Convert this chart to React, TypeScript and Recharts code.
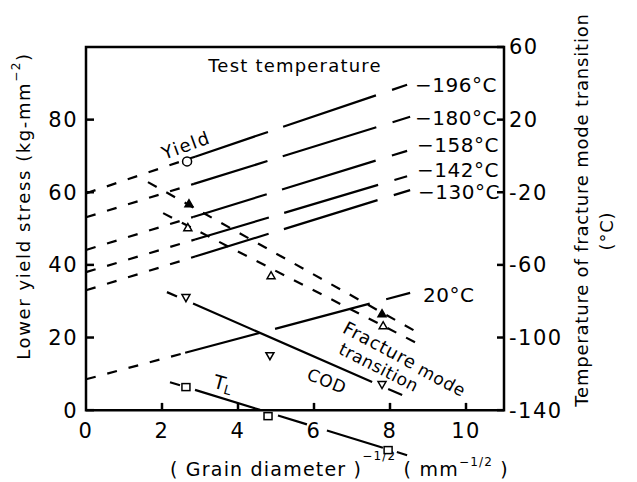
import React from 'react';
import {
  ComposedChart,
  Line,
  Scatter,
  XAxis,
  YAxis,
  ReferenceArea,
  ReferenceLine,
  ReferenceDot,
} from 'recharts';

const FONT = '"DejaVu Sans", "Liberation Sans", sans-serif';
const INK = '#000';

// lower yield stress (kg/mm²) vs d^-1/2, one line per test temperature
const tempLabels = ['−196°C', '−180°C', '−158°C', '−142°C', '−130°C', '20°C'];
const stressAtZero = [59.7, 53.1, 44.1, 38.0, 33.0, 8.5];
const measuredFromX = [2.87, 2.84, 2.82, 2.87, 2.87, 2.61];
const stressAtMeasured = [69.8, 62.3, 53.2, 47.0, 42.3, 15.8];
const lineEndX = [8.45, 8.53, 8.45, 8.45, 8.53, 8.53];
const stressAtEnd = [89.6, 80.8, 71.4, 64.4, 60.6, 32.3];
const tempLabelX = [8.66, 8.66, 8.71, 8.71, 8.74, 8.87];
const tempLabelY = [89.5, 80.4, 72.9, 66.1, 60.1, 31.7];

// yield point on the -196°C line
const yieldX = [2.66];
const yieldStress = [68.5];

// fracture mode transition temperature (°C)
const fracUpperX = [1.63, 8.71];
const fracUpperT = [-14.4, -97.0];
const fracUpperPtX = [2.71, 7.79];
const fracUpperPtT = [-26.0, -86.6];
const fracLowerX = [2.03, 8.66];
const fracLowerT = [-31.5, -102.6];
const fracLowerPtX = [2.68, 4.87, 7.82];
const fracLowerPtT = [-39.2, -65.7, -93.2];

// COD transition temperature (°C)
const codX = [2.13, 8.32];
const codT = [-75.0, -131.7];
const codPtX = [2.63, 4.84, 7.79];
const codPtT = [-78.3, -110.3, -126.2];

// T_L (°C)
const tlX = [2.21, 8.45];
const tlT = [-124.6, -164.8];
const tlPtX = [2.63, 4.79, 7.95];
const tlPtT = [-127.3, -143.3, -162.0];

const xTicks = [0, 2, 4, 6, 8, 10];
const stressTicks = [0, 20, 40, 60, 80];
const tempTicks = [-140, -100, -60, -20, 20, 60];

const pts = (xs: number[], ys: number[]) => xs.map((x, i) => ({ x, y: ys[i] }));

interface Box {
  viewBox?: { x: number; y: number; width?: number; height?: number };
}

interface NoteProps extends Box {
  txt: string;
  rot?: number;
  anchor?: 'start' | 'middle' | 'end';
  fs?: number;
  ls?: number;
  shift?: number;
}

const Note = ({ viewBox, txt, rot = 0, anchor = 'middle', fs = 18, ls = 1, shift = 0 }: NoteProps) => {
  if (!viewBox) return null;
  const x = viewBox.x + shift;
  const y = viewBox.y;
  return (
    <text
      x={x}
      y={y}
      transform={`rotate(${rot} ${x} ${y})`}
      textAnchor={anchor}
      dominantBaseline="central"
      fontFamily={FONT}
      fontSize={fs}
      letterSpacing={ls}
      fill={INK}
    >
      {txt}
    </text>
  );
};

const TlNote = ({ viewBox }: Box) => {
  if (!viewBox) return null;
  const { x, y } = viewBox;
  return (
    <text
      x={x}
      y={y}
      transform={`rotate(15 ${x} ${y})`}
      textAnchor="middle"
      dominantBaseline="central"
      fontFamily={FONT}
      fontSize={19}
      fill={INK}
    >
      T<tspan dy={5} fontSize={13}>L</tspan>
    </text>
  );
};

const LeftTitle = ({ viewBox }: Box) => {
  if (!viewBox) return null;
  const x = viewBox.x - 3;
  const y = viewBox.y + 159;
  return (
    <text
      x={x}
      y={y}
      transform={`rotate(-90 ${x} ${y})`}
      textAnchor="middle"
      dominantBaseline="central"
      fontFamily={FONT}
      fontSize={18}
      letterSpacing={1.6}
      fill={INK}
    >
      Lower yield stress (kg-mm<tspan dy={-7} fontSize={12}>−2</tspan>
      <tspan dy={7}>)</tspan>
    </text>
  );
};

const RightTitle = ({ viewBox }: Box) => {
  if (!viewBox) return null;
  const x1 = viewBox.x + 77;
  const y1 = viewBox.y + 163;
  const x2 = viewBox.x + 102;
  const y2 = viewBox.y + 184;
  const common = {
    textAnchor: 'middle' as const,
    dominantBaseline: 'central' as const,
    fontFamily: FONT,
    fontSize: 18,
    letterSpacing: 0.8,
    fill: INK,
  };
  return (
    <g>
      <text x={x1} y={y1} transform={`rotate(-90 ${x1} ${y1})`} {...common}>
        Temperature of fracture mode transition
      </text>
      <text x={x2} y={y2} transform={`rotate(-90 ${x2} ${y2})`} {...common}>
        (°C)
      </text>
    </g>
  );
};

const XTitle = ({ viewBox }: Box) => {
  if (!viewBox) return null;
  const x = viewBox.x + 84;
  const y = viewBox.y + 15;
  return (
    <text x={x} y={y} fontFamily={FONT} fontSize={19} letterSpacing={1.2} fill={INK}>
      ( Grain diameter )<tspan dy={-16} fontSize={12}>−1/2</tspan>
      <tspan dy={16}>{'\u00a0( mm'}</tspan>
      <tspan dy={-10} fontSize={12}>−1/2</tspan>
      <tspan dy={10}>{'\u00a0)'}</tspan>
    </text>
  );
};

const Tri = ({ cx, cy, down = false, solid = false }: any) => {
  const w = 4;
  const h = 3.5;
  const tip = down ? cy + h : cy - h;
  const base = down ? cy - h : cy + h;
  return (
    <polygon
      points={`${cx - w},${base} ${cx + w},${base} ${cx},${tip}`}
      fill={solid ? INK : '#fff'}
      stroke={INK}
      strokeWidth={1.5}
    />
  );
};

const Square = ({ cx, cy }: any) => (
  <rect x={cx - 4} y={cy - 3.5} width={8} height={7} fill="#fff" stroke={INK} strokeWidth={1.5} />
);

const Ring = ({ cx, cy }: any) => (
  <circle cx={cx} cy={cy} r={4.5} fill="#fff" stroke={INK} strokeWidth={1.5} />
);

const tickStyle = { fill: INK, fontSize: 21, fontFamily: FONT, style: { letterSpacing: '1.5px' } };
const LEAD_DASH = '10 12';
const MAIN_DASH = '77 16 98 17 30';

export default function App() {
  return (
    <div style={{ position: 'absolute', left: 0, top: 0, width: 637, height: 482, background: '#fff' }}>
      <ComposedChart width={637} height={482} margin={{ top: 47, right: 63, bottom: 0, left: 26 }}>
        <XAxis
          dataKey="x"
          type="number"
          domain={[0, 11]}
          ticks={xTicks}
          interval={0}
          height={21}
          axisLine={false}
          tickLine={false}
          tickSize={0}
          tickMargin={-38}
          tick={tickStyle}
          label={<XTitle />}
        />
        <YAxis
          yAxisId="s"
          type="number"
          domain={[-14, 100]}
          ticks={stressTicks}
          interval={0}
          width={60}
          axisLine={false}
          tickSize={-8}
          tickMargin={16}
          tickLine={{ stroke: INK, strokeWidth: 2.5 }}
          tick={tickStyle}
          label={<LeftTitle />}
        />
        <YAxis
          yAxisId="t"
          orientation="right"
          type="number"
          domain={[-168, 60]}
          ticks={tempTicks}
          interval={0}
          width={70}
          axisLine={false}
          tickSize={-7}
          tickMargin={12}
          tickLine={{ stroke: INK, strokeWidth: 2.5 }}
          tick={tickStyle}
          label={<RightTitle />}
        />

        <ReferenceArea
          yAxisId="s"
          x1={0}
          x2={11}
          y1={0}
          y2={100}
          fill="none"
          stroke={INK}
          strokeWidth={2.5}
        />
        {xTicks.slice(1).map((v) => (
          <ReferenceLine
            key={`xt${v}`}
            yAxisId="s"
            segment={[{ x: v, y: 0 }, { x: v, y: 2 }]}
            stroke={INK}
            strokeWidth={2.5}
          />
        ))}

        {tempLabels.map((t, i) => (
          <Line
            key={`lead${t}`}
            yAxisId="s"
            data={pts([0, measuredFromX[i]], [stressAtZero[i], stressAtMeasured[i]])}
            dataKey="y"
            stroke={INK}
            strokeWidth={2.2}
            strokeDasharray={LEAD_DASH}
            dot={false}
            activeDot={false}
            isAnimationActive={false}
          />
        ))}
        {tempLabels.map((t, i) => (
          <Line
            key={`main${t}`}
            yAxisId="s"
            data={pts([measuredFromX[i], lineEndX[i]], [stressAtMeasured[i], stressAtEnd[i]])}
            dataKey="y"
            stroke={INK}
            strokeWidth={2.2}
            strokeDasharray={MAIN_DASH}
            dot={false}
            activeDot={false}
            isAnimationActive={false}
          />
        ))}

        <Line
          yAxisId="t"
          data={pts(fracUpperX, fracUpperT)}
          dataKey="y"
          stroke={INK}
          strokeWidth={2.2}
          strokeDasharray="10 11"
          dot={false}
          activeDot={false}
          isAnimationActive={false}
        />
        <Line
          yAxisId="t"
          data={pts(fracLowerX, fracLowerT)}
          dataKey="y"
          stroke={INK}
          strokeWidth={2.2}
          strokeDasharray="10 11"
          dot={false}
          activeDot={false}
          isAnimationActive={false}
        />
        <Line
          yAxisId="t"
          data={pts(codX, codT)}
          dataKey="y"
          stroke={INK}
          strokeWidth={2.2}
          strokeDasharray="11 17.5 195.5 17.5 16"
          dot={false}
          activeDot={false}
          isAnimationActive={false}
        />
        <Line
          yAxisId="t"
          data={pts(tlX, tlT)}
          dataKey="y"
          stroke={INK}
          strokeWidth={2.2}
          strokeDasharray="10.5 15.7 68 18.8 30.3 20.9 58.6 14.6 12"
          dot={false}
          activeDot={false}
          isAnimationActive={false}
        />

        <Scatter
          yAxisId="s"
          data={pts(yieldX, yieldStress)}
          dataKey="y"
          shape={(p: any) => <Ring {...p} />}
          isAnimationActive={false}
        />
        <Scatter
          yAxisId="t"
          data={pts(fracUpperPtX, fracUpperPtT)}
          dataKey="y"
          shape={(p: any) => <Tri {...p} solid />}
          isAnimationActive={false}
        />
        <Scatter
          yAxisId="t"
          data={pts(fracLowerPtX, fracLowerPtT)}
          dataKey="y"
          shape={(p: any) => <Tri {...p} />}
          isAnimationActive={false}
        />
        <Scatter
          yAxisId="t"
          data={pts(codPtX, codPtT)}
          dataKey="y"
          shape={(p: any) => <Tri {...p} down />}
          isAnimationActive={false}
        />
        <Scatter
          yAxisId="t"
          data={pts(tlPtX, tlPtT)}
          dataKey="y"
          shape={(p: any) => <Square {...p} />}
          isAnimationActive={false}
        />

        {tempLabels.map((t, i) => (
          <ReferenceDot
            key={`lbl${t}`}
            yAxisId="s"
            x={tempLabelX[i]}
            y={tempLabelY[i]}
            r={0}
            fill="none"
            stroke="none"
            label={<Note txt={t} anchor="start" fs={20} ls={0.5} />}
          />
        ))}
        <ReferenceDot yAxisId="s" x={5.5} y={95} r={0} fill="none" stroke="none"
          label={<Note txt="Test temperature" fs={18} ls={1.2} />} />
        <ReferenceDot yAxisId="s" x={2.63} y={73} r={0} fill="none" stroke="none"
          label={<Note txt="Yield" rot={-20} fs={18} ls={1.5} />} />
        <ReferenceDot yAxisId="s" x={7.74} y={17.9} r={0} fill="none" stroke="none"
          label={<Note txt="Fracture" rot={28} fs={18} ls={0.8} />} />
        <ReferenceDot yAxisId="s" x={7.71} y={11.8} r={0} fill="none" stroke="none"
          label={<Note txt="transition" rot={27} fs={17} ls={0.6} />} />
        <ReferenceDot yAxisId="s" x={9.37} y={8.3} r={0} fill="none" stroke="none"
          label={<Note txt="mode" rot={28} fs={17} ls={0.8} />} />
        <ReferenceDot yAxisId="s" x={6.34} y={8.0} r={0} fill="none" stroke="none"
          label={<Note txt="COD" rot={22} fs={17} ls={0.8} />} />
        <ReferenceDot yAxisId="s" x={3.61} y={7.4} r={0} fill="none" stroke="none"
          label={<TlNote />} />
      </ComposedChart>
    </div>
  );
}
